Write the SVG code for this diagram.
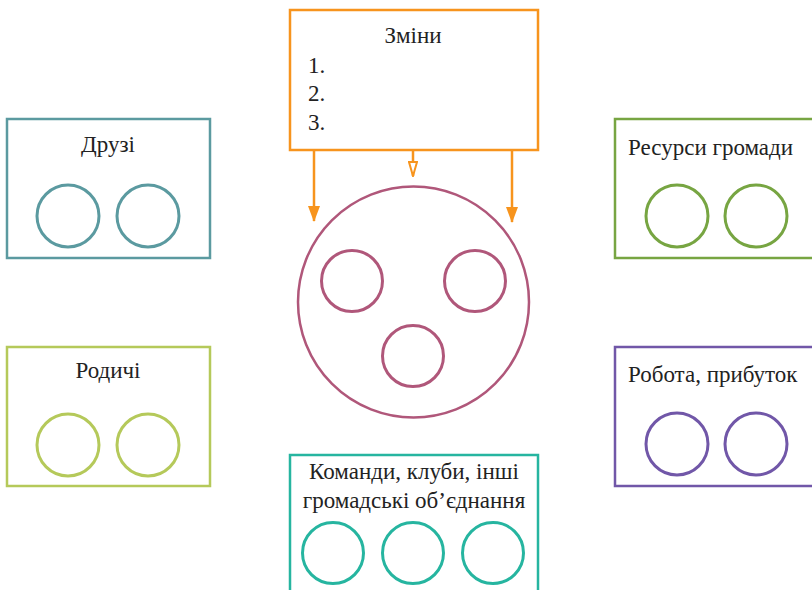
<svg xmlns="http://www.w3.org/2000/svg" width="812" height="590" viewBox="0 0 812 590">
<defs>
<marker id="filled" viewBox="0 0 16 12" refX="15" refY="6" markerWidth="16" markerHeight="12" orient="auto" markerUnits="userSpaceOnUse">
<path d="M0,0 L16,6 L0,12 Z" fill="#f7941d"/>
</marker>
<marker id="hollow" viewBox="0 0 16 10" refX="15" refY="5" markerWidth="16" markerHeight="10" orient="auto" markerUnits="userSpaceOnUse">
<path d="M1,1 L15,5 L1,9 Z" fill="#fff" stroke="#f7941d" stroke-width="2"/>
</marker>
</defs>
<style>
text{font-family:"Liberation Serif","Times New Roman",serif;font-size:23px;fill:#222}
.box{fill:#fff;stroke-width:2.5}
.c{fill:none;stroke-width:3}
.conn{stroke:#f7941d;stroke-width:2.5;fill:none}
</style>
<rect width="812" height="590" fill="#fff"/>
<g id="changes">
<rect class="box" x="290" y="10" width="248" height="140" stroke="#f7941d"/>
<text x="413" y="43" text-anchor="middle">Зміни</text>
<text x="308" y="73">1.</text>
<text x="308" y="101">2.</text>
<text x="308" y="130">3.</text>
</g>
<g id="face">
<circle cx="413.5" cy="302" r="115.5" fill="none" stroke="#b0577a" stroke-width="2.5"/>
<circle class="c" cx="352" cy="281" r="30.5" stroke="#b0577a"/>
<circle class="c" cx="475" cy="281" r="30.5" stroke="#b0577a"/>
<circle class="c" cx="413" cy="356" r="30.5" stroke="#b0577a"/>
</g>
<g id="friends">
<rect class="box" x="7" y="119" width="203" height="139" stroke="#5b9aa0"/>
<text x="108" y="152" text-anchor="middle">Друзі</text>
<circle class="c" cx="68" cy="216" r="31" stroke="#5b9aa0"/>
<circle class="c" cx="148" cy="216" r="31" stroke="#5b9aa0"/>
</g>
<g id="parents">
<rect class="box" x="7" y="347" width="203" height="139" stroke="#b5c95a"/>
<text x="108" y="378" text-anchor="middle">Родичі</text>
<circle class="c" cx="68" cy="445" r="31" stroke="#b5c95a"/>
<circle class="c" cx="148" cy="445" r="31" stroke="#b5c95a"/>
</g>
<g id="resources">
<rect class="box" x="615" y="119" width="210" height="139" stroke="#77a542"/>
<text x="628" y="155">Ресурси громади</text>
<circle class="c" cx="677" cy="216" r="31" stroke="#77a542"/>
<circle class="c" cx="756" cy="216" r="31" stroke="#77a542"/>
</g>
<g id="work">
<rect class="box" x="615" y="347" width="210" height="139" stroke="#7157a8"/>
<text x="628" y="382">Робота, прибуток</text>
<circle class="c" cx="677" cy="444" r="31" stroke="#7157a8"/>
<circle class="c" cx="756" cy="444" r="31" stroke="#7157a8"/>
</g>
<g id="teams">
<rect class="box" x="290" y="455" width="248" height="150" stroke="#26b5a0"/>
<text x="414" y="479" text-anchor="middle">Команди, клуби, інші</text>
<text x="414" y="508" text-anchor="middle">громадські об’єднання</text>
<circle class="c" cx="333" cy="553" r="30.5" stroke="#26b5a0"/>
<circle class="c" cx="413" cy="553" r="30.5" stroke="#26b5a0"/>
<circle class="c" cx="493" cy="553" r="30.5" stroke="#26b5a0"/>
</g>
<g id="connectors">
<line class="conn" x1="314" y1="151" x2="314" y2="221" marker-end="url(#filled)"/>
<line class="conn" x1="413" y1="151" x2="413" y2="176" marker-end="url(#hollow)"/>
<line class="conn" x1="512" y1="151" x2="512" y2="222" marker-end="url(#filled)"/>
</g>
</svg>
